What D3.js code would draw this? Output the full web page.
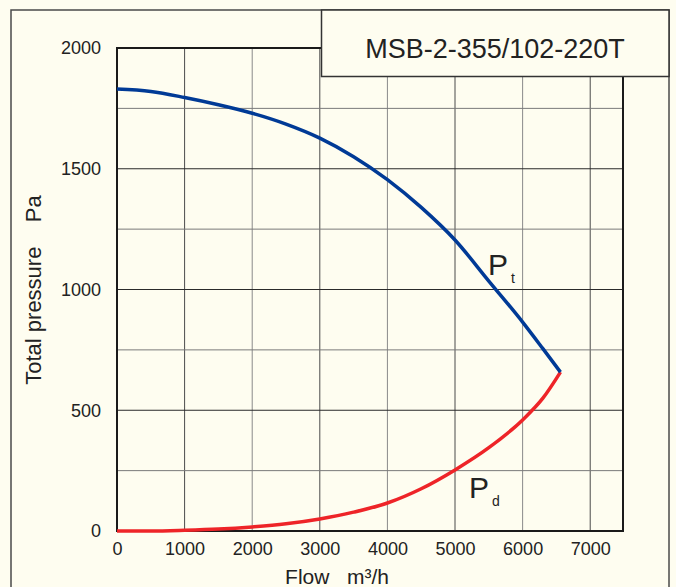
<!DOCTYPE html>
<html>
<head>
<meta charset="utf-8">
<style>
    body { margin: 0; background: #fefdf0; }
    text { font-family: Arial, "Liberation Sans", Helvetica, sans-serif; fill: #222; }
    .tick_label { font-size: 18px; }
</style>
</head>
<body>
<svg width="676" height="587" id="chart"></svg>

<script charset="utf-8" src="https://cdn.jsdelivr.net/npm/d3@7"></script>
<script charset="utf-8">

// curve readings (flow m3/h, pressure Pa)
var flow = [0, 500, 1000, 1500, 2000, 2500, 3000, 3500, 4000, 4500, 5000, 5500, 6000, 6300, 6560];
var p_total = [1830, 1820, 1795, 1765, 1730, 1685, 1627, 1550, 1455, 1340, 1205, 1035, 865, 755, 658];
var p_dynamic = [0, 0, 3, 8, 17, 30, 50, 78, 116, 175, 253, 345, 460, 550, 658];

var x_ticks = [0, 1000, 2000, 3000, 4000, 5000, 6000, 7000];
var y_ticks = [0, 500, 1000, 1500, 2000];
var y_grid = [250, 500, 750, 1000, 1250, 1500, 1750];

var title = "MSB-2-355/102-220T";

var svg = d3.select("#chart");

// plot area edges (note: "top" is reserved on window)
var m_left = 117, m_right = 623, m_top = 48, m_bottom = 531;

var x = d3.scaleLinear().domain([0, 7485]).range([m_left, m_right]);
var y = d3.scaleLinear().domain([0, 2000]).range([m_bottom, m_top]);

// outer frame
svg.append("rect")
    .attr("x", 11).attr("y", 10)
    .attr("width", 658).attr("height", 600)
    .attr("fill", "#fefdf0")
    .attr("stroke", "#4a4a4a")
    .attr("stroke-width", 1.5);

var g = svg.append("g");

// grid
g.selectAll("line.vgrid")
    .data(x_ticks.filter(function(d) { return d > 0; }))
    .enter().append("line")
    .attr("class", "vgrid")
    .attr("x1", function(d) { return x(d); })
    .attr("x2", function(d) { return x(d); })
    .attr("y1", m_top).attr("y2", m_bottom)
    .attr("stroke", function(d) { return (d / 1000) % 2 ? "#4a4a4a" : "#8a8a8a"; })
    .attr("stroke-width", 1);

g.selectAll("line.hgrid")
    .data(y_grid)
    .enter().append("line")
    .attr("class", "hgrid")
    .attr("x1", m_left).attr("x2", m_right)
    .attr("y1", function(d) { return y(d); })
    .attr("y2", function(d) { return y(d); })
    .attr("stroke", function(d) { return d % 500 ? "#7a7a7a" : "#2a2a2a"; })
    .attr("stroke-width", 1);

// plot border
g.append("rect")
    .attr("x", m_left).attr("y", m_top)
    .attr("width", m_right - m_left).attr("height", m_bottom - m_top)
    .attr("fill", "none")
    .attr("stroke", "#1a1a1a")
    .attr("stroke-width", 2);

// axes (labels only, the border above carries the lines)
var xAxis = d3.axisBottom(x).tickValues(x_ticks).tickFormat(d3.format("d")).tickSize(0).tickPadding(11);
var yAxis = d3.axisLeft(y).tickValues(y_ticks).tickFormat(d3.format("d")).tickSize(0).tickPadding(16);

var gx = g.append("g").attr("transform", "translate(0," + m_bottom + ")").call(xAxis);
var gy = g.append("g").attr("transform", "translate(" + m_left + ",0)").call(yAxis);
[gx, gy].forEach(function(a) {
    a.attr("font-size", null).attr("font-family", null);
    a.select(".domain").remove();
    a.selectAll("text")
        .attr("class", "tick_label")
        .attr("fill", "#222");
});

// axis titles
svg.append("text")
    .attr("x", 337).attr("y", 584)
    .attr("text-anchor", "middle")
    .attr("font-size", "21px")
    .attr("xml:space", "preserve")
    .text("Flow   m\u00b3/h");

svg.append("text")
    .attr("transform", "translate(41,290) rotate(-90)")
    .attr("text-anchor", "middle")
    .attr("font-size", "22px")
    .attr("xml:space", "preserve")
    .text("Total pressure    Pa");

// curves
var line_t = d3.line()
    .x(function(d, i) { return x(flow[i]); })
    .y(function(d) { return y(d); })
    .curve(d3.curveMonotoneX);

g.append("path")
    .attr("d", line_t(p_dynamic))
    .attr("fill", "none")
    .attr("stroke", "#ee2428")
    .attr("stroke-width", 3.5);

g.append("path")
    .attr("d", line_t(p_total))
    .attr("fill", "none")
    .attr("stroke", "#003a96")
    .attr("stroke-width", 3.5);

// curve labels
function curve_label(px, py, sub) {
    var t = svg.append("text").attr("x", px).attr("y", py).attr("font-size", "30px");
    t.append("tspan").text("P");
    t.append("tspan").attr("font-size", "14px").attr("dx", 3).attr("dy", 8).text(sub);
}
curve_label(488, 275, "t");
curve_label(469, 498, "d");

// title box
svg.append("rect")
    .attr("x", 321.5).attr("y", 10)
    .attr("width", 347.5).attr("height", 66.5)
    .attr("fill", "#fefdf0")
    .attr("stroke", "#333")
    .attr("stroke-width", 1.5);

svg.append("text")
    .attr("x", 495).attr("y", 58)
    .attr("text-anchor", "middle")
    .attr("font-size", "27px")
    .text(title);

</script>
</body>
</html>
